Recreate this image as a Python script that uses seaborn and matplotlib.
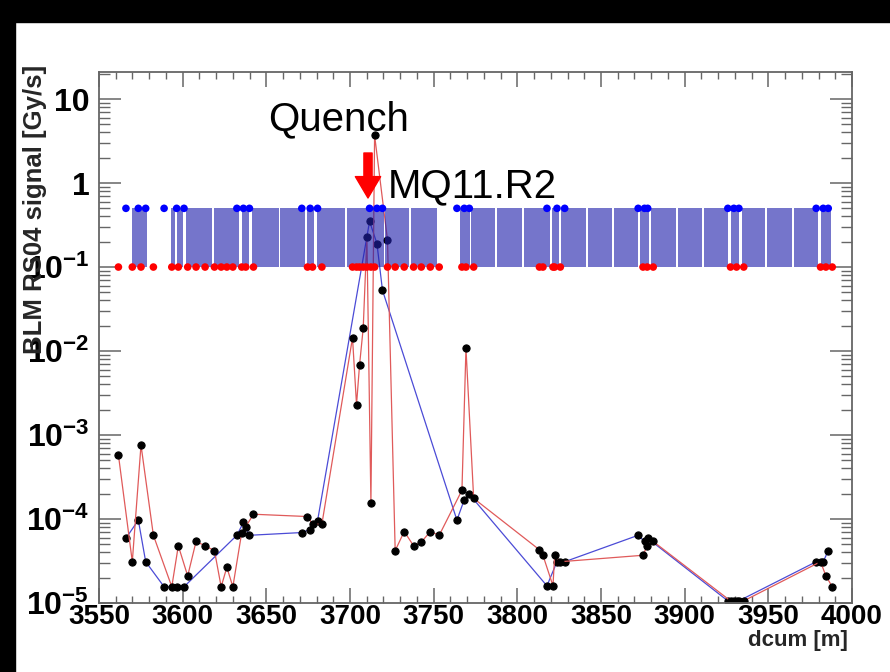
import numpy as np
import pandas as pd
import matplotlib
matplotlib.use("Agg")
import matplotlib.pyplot as plt
import seaborn as sns
from matplotlib.patches import Rectangle
from matplotlib.ticker import LogLocator, FuncFormatter, MultipleLocator, NullFormatter

# ---------------- data ----------------
red_dcum = [3561.6, 3569.9, 3575.1, 3582.5, 3593.5, 3597.4, 3603.0, 3608.0, 3613.4, 3619.0,
            3623.0, 3626.4, 3630.0, 3635.3, 3637.7, 3642.3, 3674.6, 3677.6, 3683.2, 3701.5,
            3703.9, 3705.7, 3707.9, 3710.1, 3712.5, 3714.7, 3722.4, 3727.0, 3732.4, 3738.0,
            3742.6, 3748.0, 3753.3, 3766.9, 3769.3, 3773.9, 3813.2, 3815.3, 3821.3, 3822.3,
            3825.7, 3875.1, 3877.6, 3881.2, 3927.4, 3931.0, 3935.3, 3981.2, 3984.4, 3988.2]
red_signal = [5.8e-4, 3.1e-5, 7.6e-4, 6.4e-5, 1.56e-5, 4.8e-5, 2.1e-5, 5.4e-5, 4.8e-5, 4.2e-5,
              1.56e-5, 2.66e-5, 1.56e-5, 6.9e-5, 8.1e-5, 1.14e-4, 1.07e-4, 8.7e-5, 8.7e-5, 1.44e-2,
              2.3e-3, 6.8e-3, 1.88e-2, 0.23, 1.56e-4, 3.7, 0.21, 4.2e-5, 7.1e-5, 4.8e-5,
              5.3e-5, 7.1e-5, 6.4e-5, 2.2e-4, 1.08e-2, 1.76e-4, 4.3e-5, 3.7e-5, 1.6e-5, 3.7e-5,
              3.1e-5, 3.7e-5, 4.8e-5, 5.4e-5, 1.06e-5, 1.06e-5, 1.06e-5, 3.1e-5, 2.1e-5, 1.56e-5]

blue_dcum = [3566.1, 3573.5, 3577.9, 3588.9, 3596.4, 3600.8, 3632.4, 3636.3, 3639.9, 3671.2,
             3676.2, 3680.6, 3711.7, 3716.1, 3719.4, 3763.9, 3768.3, 3771.3, 3817.7, 3823.7,
             3828.3, 3872.2, 3876.0, 3877.9, 3925.8, 3929.4, 3932.4, 3978.6, 3982.8, 3985.8]
blue_signal = [5.9e-5, 9.7e-5, 3.1e-5, 1.56e-5, 1.56e-5, 1.56e-5, 6.4e-5, 9.1e-5, 6.4e-5, 6.9e-5,
               7.5e-5, 9.5e-5, 0.35, 0.19, 0.053, 9.7e-5, 1.7e-4, 1.97e-4, 1.6e-5, 3.1e-5,
               3.1e-5, 6.4e-5, 5.4e-5, 5.9e-5, 1.06e-5, 1.06e-5, 1.06e-5, 3.1e-5, 3.1e-5, 4.2e-5]

# magnet segments (dcum start / end)
seg_start = [3569.6, 3592.9, 3596.6, 3602.0, 3618.5, 3635.3, 3641.3, 3658.3, 3674.2, 3680.2,
             3698.0, 3721.1, 3736.6, 3765.9, 3772.5, 3788.0, 3804.2, 3820.6, 3826.3, 3842.5,
             3858.0, 3873.6, 3880.1, 3896.0, 3911.8, 3927.4, 3934.0, 3949.5, 3965.1, 3981.2]
seg_end = [3578.5, 3595.6, 3600.1, 3617.6, 3633.9, 3639.9, 3657.5, 3673.0, 3678.2, 3697.1,
           3720.2, 3735.2, 3752.0, 3771.5, 3786.8, 3803.0, 3819.3, 3824.9, 3841.3, 3856.8,
           3872.1, 3878.4, 3895.1, 3910.6, 3925.8, 3932.2, 3948.3, 3963.9, 3979.4, 3987.4]

low_level = 0.1
high_level = 0.5

x_label = "dcum [m]"
y_label = "BLM RS04 signal [Gy/s]"
quench_text = "Quench"
magnet_text = "MQ11.R2"

# ---------------- style ----------------
sns.set_style("ticks")
plt.rcParams["font.family"] = ["Liberation Sans", "DejaVu Sans"]
plt.rcParams["font.weight"] = "bold"
plt.rcParams["mathtext.fontset"] = "custom"
plt.rcParams["mathtext.rm"] = "Liberation Sans:bold"
plt.rcParams["mathtext.bf"] = "Liberation Sans:bold"
plt.rcParams["mathtext.default"] = "bf"

W, H = 890, 672
fig = plt.figure(figsize=(W / 100, H / 100), dpi=100)
fig.patch.set_facecolor("white")
fig.patches.append(Rectangle((0, 1 - 22 / H), 1, 22 / H, transform=fig.transFigure,
                             color="black", zorder=-5))
fig.patches.append(Rectangle((0, 0), 15 / W, 1, transform=fig.transFigure,
                             color="black", zorder=-5))

ax = fig.add_axes([99 / W, 69 / H, 753 / W, 531 / H])
ax.set_facecolor("white")

df_red = pd.DataFrame({"dcum": red_dcum, "signal": red_signal})
df_blue = pd.DataFrame({"dcum": blue_dcum, "signal": blue_signal})

sns.lineplot(data=df_blue, x="dcum", y="signal", sort=False, estimator=None,
             color="#4b4bd6", lw=0.9, marker="o", markersize=5.2,
             markerfacecolor="black", markeredgecolor="black", ax=ax, zorder=2)
sns.lineplot(data=df_red, x="dcum", y="signal", sort=False, estimator=None,
             color="#e05a5a", lw=0.9, marker="o", markersize=5.2,
             markerfacecolor="black", markeredgecolor="black", ax=ax, zorder=2)

ax.set_yscale("log")

starts = np.array(seg_start)
ends = np.array(seg_end)
ax.bar(starts, height=high_level - low_level, width=ends - starts, bottom=low_level,
       align="edge", color="#2020ab", alpha=0.62, lw=0, zorder=4)

sns.scatterplot(x=red_dcum, y=[low_level] * len(red_dcum), color="#ff0000", s=30,
                edgecolor="none", zorder=5, ax=ax, legend=False)
sns.scatterplot(x=blue_dcum, y=[high_level] * len(blue_dcum), color="#0000ff", s=30,
                edgecolor="none", zorder=5, ax=ax, legend=False)

ax.set_xlim(3550, 4000)
ax.set_ylim(1e-5, 21)

ax.xaxis.set_major_locator(MultipleLocator(50))
ax.xaxis.set_minor_locator(MultipleLocator(10))
ax.yaxis.set_major_locator(LogLocator(base=10, numticks=12))
ax.yaxis.set_minor_locator(LogLocator(base=10, subs=np.arange(2, 10), numticks=12))
ax.yaxis.set_minor_formatter(NullFormatter())


def yfmt(v, pos):
    e = int(round(np.log10(v)))
    if e == 1:
        return "10"
    if e == 0:
        return "1"
    return r"$10^{%d}$" % e


ax.yaxis.set_major_formatter(FuncFormatter(yfmt))
ax.xaxis.set_major_formatter(FuncFormatter(lambda v, p: "%d" % v))

ax.tick_params(axis="both", which="both", direction="in", top=True, right=True,
               color="#666666", labelcolor="black")
ax.tick_params(axis="x", which="major", length=11, width=1.1, labelsize=20, pad=1)
ax.tick_params(axis="x", which="minor", length=5, width=1.0)
ax.tick_params(axis="y", which="major", length=16, width=1.1, labelsize=23, pad=7)
ax.tick_params(axis="y", which="minor", length=8, width=1.0)
for s in ax.spines.values():
    s.set_color("#666666")
    s.set_linewidth(1.3)

ax.set_xlabel(x_label, fontsize=16, fontweight="bold", loc="right")
ax.xaxis.set_label_coords(0.995, -0.05)
ax.set_ylabel(y_label, fontsize=18.5, fontweight="bold", loc="top")
ax.yaxis.set_label_coords(-0.069, 1.013)

fig.text(268 / W, 1 - 130 / H, quench_text, fontsize=29, fontweight="normal",
         va="baseline", ha="left", color="black")
fig.text(388 / W, 1 - 197 / H, magnet_text, fontsize=29, fontweight="normal",
         va="baseline", ha="left", color="black")
ax.annotate("", xy=(368, H - 198), xycoords="figure pixels",
            xytext=(368, H - 153), textcoords="figure pixels",
            arrowprops=dict(arrowstyle="simple,head_length=1.1,head_width=1.3,tail_width=0.42",
                            color="#ff0000", mutation_scale=14, shrinkA=0, shrinkB=0),
            zorder=6)

fig.savefig("out.png", dpi=100)
